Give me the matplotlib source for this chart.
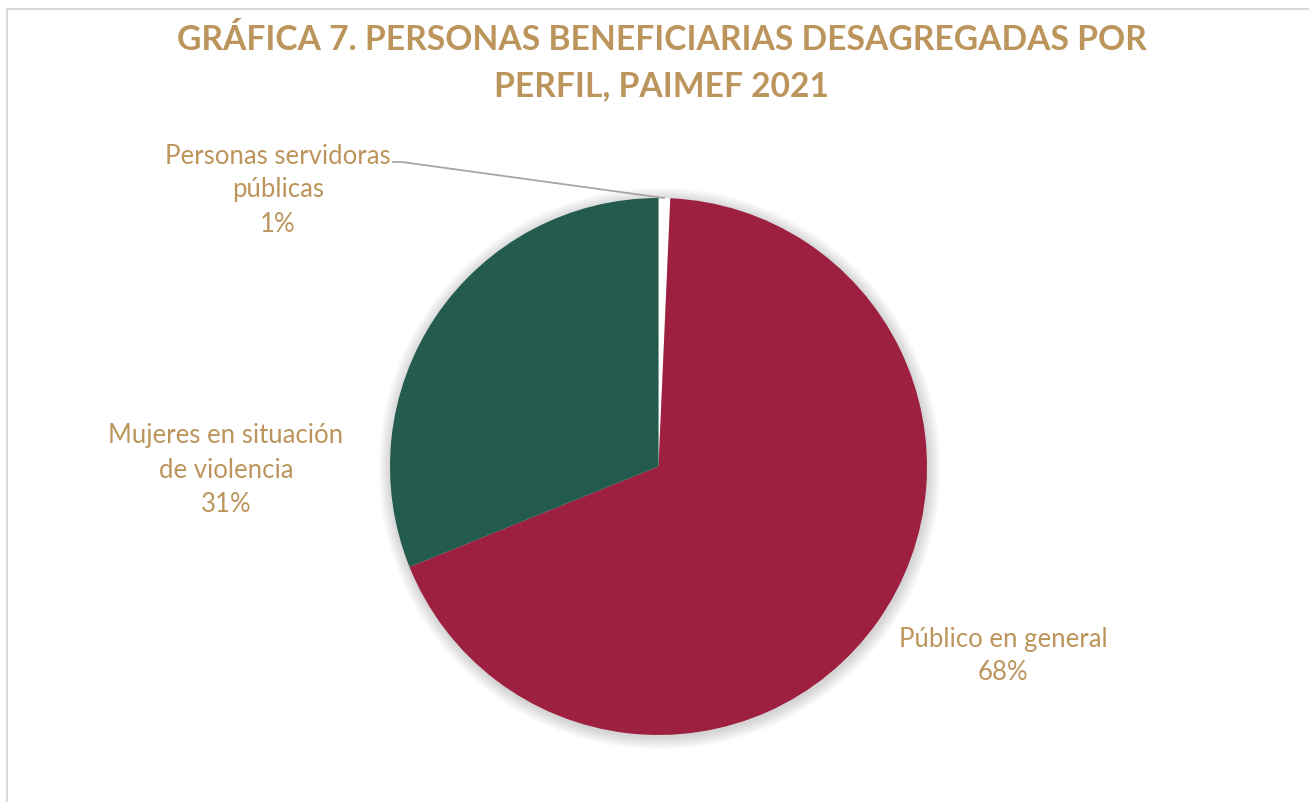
import matplotlib
matplotlib.use("Agg")
import matplotlib.pyplot as plt
from matplotlib.patches import Circle, Rectangle

categories = ["Personas servidoras\npúblicas", "Público en general", "Mujeres en situación\nde violencia"]
values = [0.7, 68.2, 31.1]
colors = ["#FFFFFF", "#9D2040", "#235B4E"]
title = "GRÁFICA 7. PERSONAS BENEFICIARIAS DESAGREGADAS POR\nPERFIL, PAIMEF 2021"

GOLD = "#BC955C"
W, H = 1309, 802
plt.rcParams['font.family'] = ['Lato', 'DejaVu Sans']

fig = plt.figure(figsize=(W / 100, H / 100), dpi=100)
ax = fig.add_axes([0, 0, 1, 1])
ax.set_xlim(0, W)
ax.set_ylim(0, H)
ax.set_aspect('equal')
ax.axis('off')

# chart border
ax.add_patch(Rectangle((7, -10), W + 20, H - 9 + 10, fill=False, edgecolor="#D9D9D9", lw=1.5))

cx, cy, R = 658.5, H - 466.5, 268.5

# soft shadow
for i in range(14):
    ax.add_patch(Circle((cx + 1, cy - 2), R + 1 + i * 0.9, color="#000000", alpha=0.012, lw=0, zorder=1))

wedges, _ = ax.pie(values, colors=colors, startangle=90, counterclock=False,
                   center=(cx, cy), radius=R, frame=True,
                   wedgeprops=dict(edgecolor="none", linewidth=0, zorder=2))
ax.set_xlim(0, W)
ax.set_ylim(0, H)
ax.axis('off')

fig.text(662 / W, 1 - 63 / H, title, ha='center', va='center', color=GOLD,
         fontsize=24.2, fontweight='bold', linespacing=1.55)

pct = [f"{round(v)}%" for v in values]
lab_pos = [(278, 190), (1003, 656), (226, 470)]
for name, p, (lx, ly) in zip(categories, pct, lab_pos):
    ax.text(lx, H - ly, f"{name}\n{p}", ha='center', va='center', color=GOLD,
            fontsize=18.5, linespacing=1.45, zorder=5)

# leader line for the small slice
ax.plot([393, 402, 664], [H - 162, H - 162, H - 198], color="#A6A6A6", lw=1.3, zorder=4)

fig.savefig("out.png", dpi=100, facecolor="white")
